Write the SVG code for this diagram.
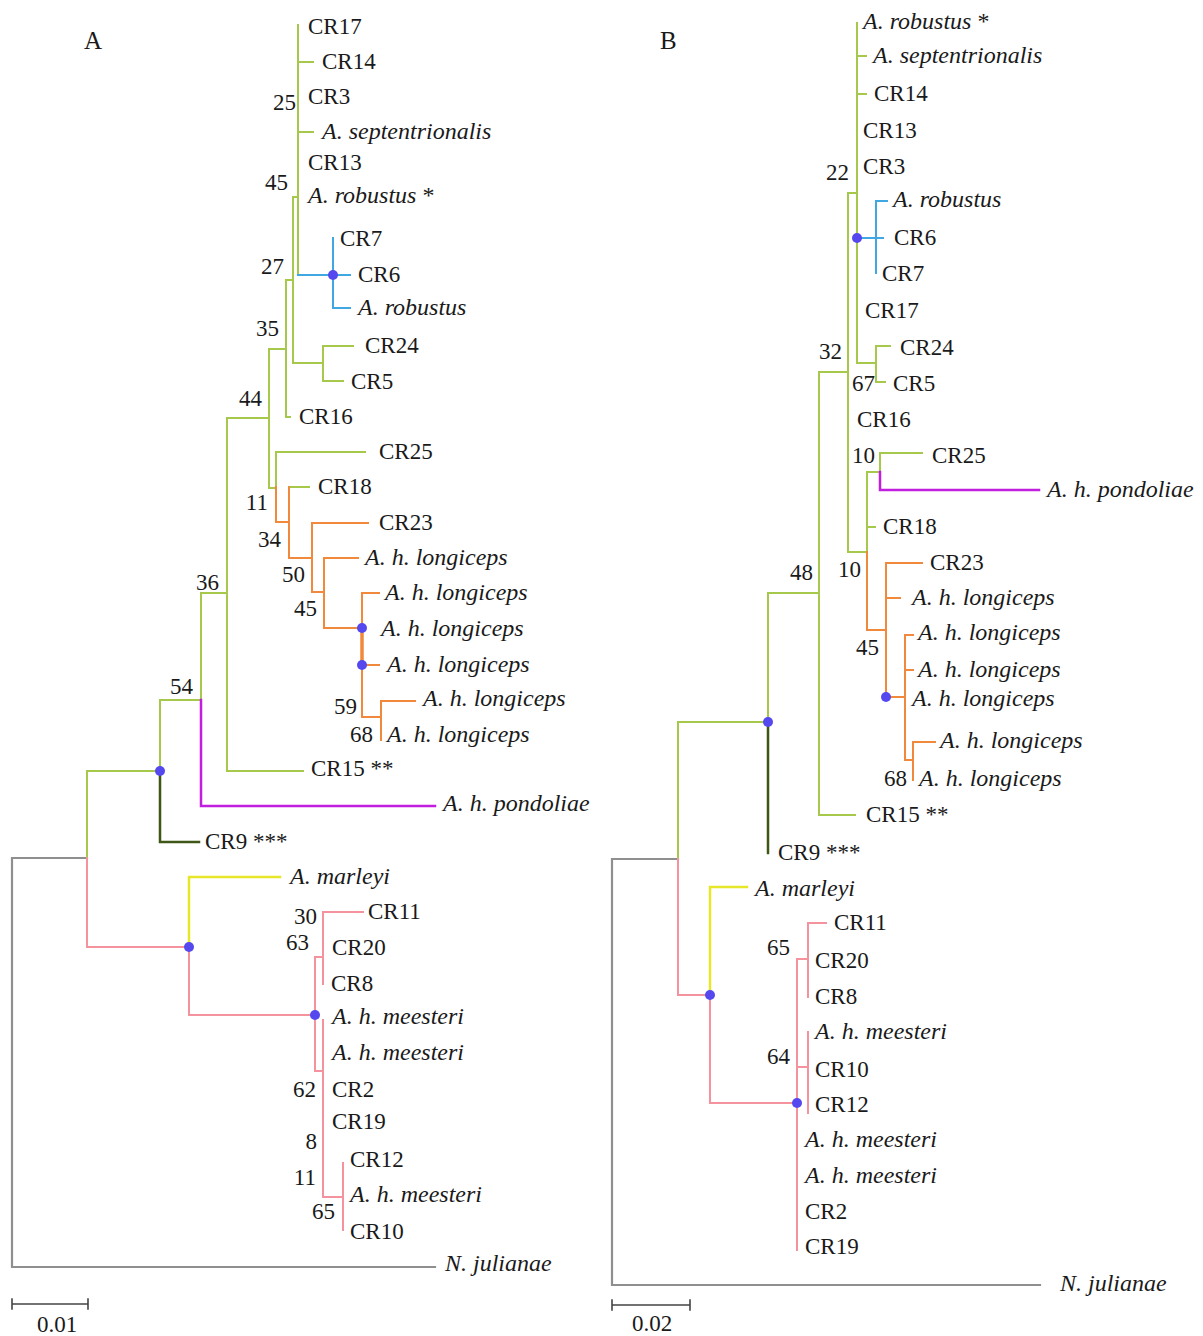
<svg xmlns="http://www.w3.org/2000/svg" width="1203" height="1336" viewBox="0 0 1203 1336">
<style>
path{fill:none;stroke-width:2;stroke-linecap:square}
.g{stroke:#a6c94c}.b{stroke:#3fa8e2}.o{stroke:#f0893c}.m{stroke:#c21ee0;stroke-width:2.5}
.d{stroke:#3f5716;stroke-width:2.5}.y{stroke:#e6e62a;stroke-width:2.5}.p{stroke:#f4939e}.gr{stroke:#8f8f8f;stroke-width:2.2}
.sb{stroke:#444;stroke-width:1.6}
.dot{fill:#5548ee}
text{font-family:"Liberation Serif","Times New Roman",serif;font-size:23px;fill:#1a1a1a}
.i{font-style:italic;font-size:24px}.n{font-style:normal}
.bs{text-anchor:end}
.pl{font-size:25px}
</style>
<rect width="1203" height="1336" fill="#fff"/>
<text class="pl" x="84" y="49">A</text>
<text class="pl" x="660" y="49">B</text>
<g id="connectors">
<!-- Tree A -->
<path class="gr" d="M12 858V1267H435M12 858H87"/>
<path class="g" d="M87 858V771H160M160 771V700H201M201 700V593H227M227 418V771M227 418H269M227 771H303"/>
<path class="d" d="M160 771V842H199"/>
<path class="m" d="M201 700V806H435"/>
<path class="g" d="M269 349V488H276M269 349H286M286 280V417H290M286 280H293M293 197V363H323M293 197H298M323 346V381M323 346H353M323 381H343"/>
<path class="g" d="M298 25V275M298 62H313M298 132H313"/>
<path class="b" d="M298 275H350M333 238V308H350"/>
<path class="g" d="M276 452V487M276 452H365M289 487H309"/>
<path class="o" d="M276 487V522H289M289 487V558H312M312 523V592H324M312 523H368M324 558V628H362M324 558H358M362 593V717M362 593H379M362 665H379M362 717H381M381 701V740M381 701H415"/>
<path class="o" d="M362 628V665" style="stroke-width:3.5"/>
<path class="p" d="M87 858V947H189M189 947V1015H315M315 957V1071M315 957H323M315 1071H323M323 912V984M323 912H363M323 1020V1197H343M343 1163V1230"/>
<path class="y" d="M189 947V877H280"/>
<path class="sb" d="M12 1304H88M12 1299V1309M88 1299V1309"/>
<!-- Tree B -->
<path class="gr" d="M612 859V1285H1040M612 859H678"/>
<path class="g" d="M678 859V722H768M768 722V593H819M819 372V815H855M819 372H848M848 193V552H867M848 193H857M857 23V363H876M857 56H866M857 94H866M876 346V382M876 346H890M876 382H885"/>
<path class="d" d="M768 722V853"/>
<path class="b" d="M857 238H883M876 201V273M876 201H887"/>
<path class="g" d="M867 472V552M867 472H880M867 527H875M880 453V472M880 453H922"/>
<path class="m" d="M880 472V490H1039"/>
<path class="o" d="M867 552V630H886M886 563V697H905M886 563H922M886 598H900M905 635V760M905 635H913M905 670H913M905 760H913M913 742V780M913 742H935"/>
<path class="p" d="M678 859V995H710M710 995V1103H797M797 959V1250M797 959H808M797 1067H808M808 923V997M808 923H826M808 1032V1113"/>
<path class="y" d="M710 995V887H747"/>
<path class="sb" d="M612 1305H690M612 1300V1310M690 1300V1310"/>
</g>
<g id="dots">
<circle class="dot" cx="160" cy="771" r="5"/>
<circle class="dot" cx="333" cy="275" r="5"/>
<circle class="dot" cx="362" cy="628" r="5"/>
<circle class="dot" cx="362" cy="665" r="5"/>
<circle class="dot" cx="189" cy="947" r="5"/>
<circle class="dot" cx="315" cy="1015" r="5"/>
<circle class="dot" cx="857" cy="238" r="5"/>
<circle class="dot" cx="768" cy="722" r="5"/>
<circle class="dot" cx="886" cy="697" r="5"/>
<circle class="dot" cx="710" cy="995" r="5"/>
<circle class="dot" cx="797" cy="1103" r="5"/>
</g>
<g id="treeA-leaves">
<g id="a-cr17"><text x="308" y="34">CR17</text></g>
<g id="a-cr14"><text x="322" y="69">CR14</text></g>
<g id="a-cr3"><text x="308" y="104">CR3</text></g>
<g id="a-asept"><text class="i" x="322" y="139">A. septentrionalis</text></g>
<g id="a-cr13"><text x="308" y="170">CR13</text></g>
<g id="a-arob1"><text class="i" x="308" y="203">A. robustus <tspan class="n">*</tspan></text></g>
<g id="a-cr7"><text x="340" y="246">CR7</text></g>
<g id="a-cr6"><text x="358" y="282">CR6</text></g>
<g id="a-arob2"><text class="i" x="358" y="315">A. robustus</text></g>
<g id="a-cr24"><text x="365" y="353">CR24</text></g>
<g id="a-cr5"><text x="351" y="389">CR5</text></g>
<g id="a-cr16"><text x="299" y="424">CR16</text></g>
<g id="a-cr25"><text x="379" y="459">CR25</text></g>
<g id="a-cr18"><text x="318" y="494">CR18</text></g>
<g id="a-cr23"><text x="379" y="530">CR23</text></g>
<g id="a-ahl1"><text class="i" x="365" y="565">A. h. longiceps</text></g>
<g id="a-ahl2"><text class="i" x="385" y="600">A. h. longiceps</text></g>
<g id="a-ahl3"><text class="i" x="381" y="636">A. h. longiceps</text></g>
<g id="a-ahl4"><text class="i" x="387" y="672">A. h. longiceps</text></g>
<g id="a-ahl5"><text class="i" x="423" y="706">A. h. longiceps</text></g>
<g id="a-ahl6"><text class="i" x="387" y="742">A. h. longiceps</text></g>
<g id="a-cr15"><text x="311" y="776">CR15 **</text></g>
<g id="a-ahp"><text class="i" x="443" y="811">A. h. pondoliae</text></g>
<g id="a-cr9"><text x="205" y="849">CR9 ***</text></g>
<g id="a-amar"><text class="i" x="290" y="884">A. marleyi</text></g>
<g id="a-cr11"><text x="368" y="919">CR11</text></g>
<g id="a-cr20"><text x="332" y="955">CR20</text></g>
<g id="a-cr8"><text x="331" y="991">CR8</text></g>
<g id="a-ahm1"><text class="i" x="332" y="1024">A. h. meesteri</text></g>
<g id="a-ahm2"><text class="i" x="332" y="1060">A. h. meesteri</text></g>
<g id="a-cr2"><text x="332" y="1097">CR2</text></g>
<g id="a-cr19"><text x="332" y="1129">CR19</text></g>
<g id="a-cr12"><text x="350" y="1167">CR12</text></g>
<g id="a-ahm3"><text class="i" x="350" y="1202">A. h. meesteri</text></g>
<g id="a-cr10"><text x="350" y="1239">CR10</text></g>
<g id="a-njul"><text class="i" x="445" y="1271">N. julianae</text></g>
</g>
<g id="treeA-support">
<text class="bs" x="296" y="110">25</text>
<text class="bs" x="288" y="190">45</text>
<text class="bs" x="284" y="274">27</text>
<text class="bs" x="279" y="336">35</text>
<text class="bs" x="262" y="406">44</text>
<text class="bs" x="268" y="510">11</text>
<text class="bs" x="281" y="547">34</text>
<text class="bs" x="305" y="582">50</text>
<text class="bs" x="317" y="616">45</text>
<text class="bs" x="357" y="714">59</text>
<text class="bs" x="373" y="742">68</text>
<text class="bs" x="219" y="590">36</text>
<text class="bs" x="193" y="694">54</text>
<text class="bs" x="317" y="924">30</text>
<text class="bs" x="309" y="950">63</text>
<text class="bs" x="316" y="1097">62</text>
<text class="bs" x="317" y="1149">8</text>
<text class="bs" x="316" y="1185">11</text>
<text class="bs" x="335" y="1219">65</text>
<text x="57" y="1332" text-anchor="middle">0.01</text>
</g>
<g id="treeB-leaves">
<g id="b-arob1"><text class="i" x="863" y="29">A. robustus <tspan class="n">*</tspan></text></g>
<g id="b-asept"><text class="i" x="873" y="63">A. septentrionalis</text></g>
<g id="b-cr14"><text x="874" y="101">CR14</text></g>
<g id="b-cr13"><text x="863" y="138">CR13</text></g>
<g id="b-cr3"><text x="863" y="174">CR3</text></g>
<g id="b-arob2"><text class="i" x="893" y="207">A. robustus</text></g>
<g id="b-cr6"><text x="894" y="245">CR6</text></g>
<g id="b-cr7"><text x="882" y="281">CR7</text></g>
<g id="b-cr17"><text x="865" y="318">CR17</text></g>
<g id="b-cr24"><text x="900" y="355">CR24</text></g>
<g id="b-cr5"><text x="893" y="391">CR5</text></g>
<g id="b-cr16"><text x="857" y="427">CR16</text></g>
<g id="b-cr25"><text x="932" y="463">CR25</text></g>
<g id="b-ahp"><text class="i" x="1047" y="497">A. h. pondoliae</text></g>
<g id="b-cr18"><text x="883" y="534">CR18</text></g>
<g id="b-cr23"><text x="930" y="570">CR23</text></g>
<g id="b-ahl1"><text class="i" x="912" y="605">A. h. longiceps</text></g>
<g id="b-ahl2"><text class="i" x="918" y="640">A. h. longiceps</text></g>
<g id="b-ahl3"><text class="i" x="918" y="677">A. h. longiceps</text></g>
<g id="b-ahl4"><text class="i" x="912" y="706">A. h. longiceps</text></g>
<g id="b-ahl5"><text class="i" x="940" y="748">A. h. longiceps</text></g>
<g id="b-ahl6"><text class="i" x="919" y="786">A. h. longiceps</text></g>
<g id="b-cr15"><text x="866" y="822">CR15 **</text></g>
<g id="b-cr9"><text x="778" y="860">CR9 ***</text></g>
<g id="b-amar"><text class="i" x="755" y="896">A. marleyi</text></g>
<g id="b-cr11"><text x="834" y="930">CR11</text></g>
<g id="b-cr20"><text x="815" y="968">CR20</text></g>
<g id="b-cr8"><text x="815" y="1004">CR8</text></g>
<g id="b-ahm1"><text class="i" x="815" y="1039">A. h. meesteri</text></g>
<g id="b-cr10"><text x="815" y="1077">CR10</text></g>
<g id="b-cr12"><text x="815" y="1112">CR12</text></g>
<g id="b-ahm2"><text class="i" x="805" y="1147">A. h. meesteri</text></g>
<g id="b-ahm3"><text class="i" x="805" y="1183">A. h. meesteri</text></g>
<g id="b-cr2"><text x="805" y="1219">CR2</text></g>
<g id="b-cr19"><text x="805" y="1254">CR19</text></g>
<g id="b-njul"><text class="i" x="1060" y="1291">N. julianae</text></g>
</g>
<g id="treeB-support">
<text class="bs" x="849" y="180">22</text>
<text class="bs" x="842" y="359">32</text>
<text class="bs" x="875" y="391">67</text>
<text class="bs" x="875" y="463">10</text>
<text class="bs" x="861" y="577">10</text>
<text class="bs" x="813" y="580">48</text>
<text class="bs" x="879" y="655">45</text>
<text class="bs" x="907" y="786">68</text>
<text class="bs" x="790" y="955">65</text>
<text class="bs" x="790" y="1064">64</text>
<text x="652" y="1331" text-anchor="middle">0.02</text>
</g>
</svg>
